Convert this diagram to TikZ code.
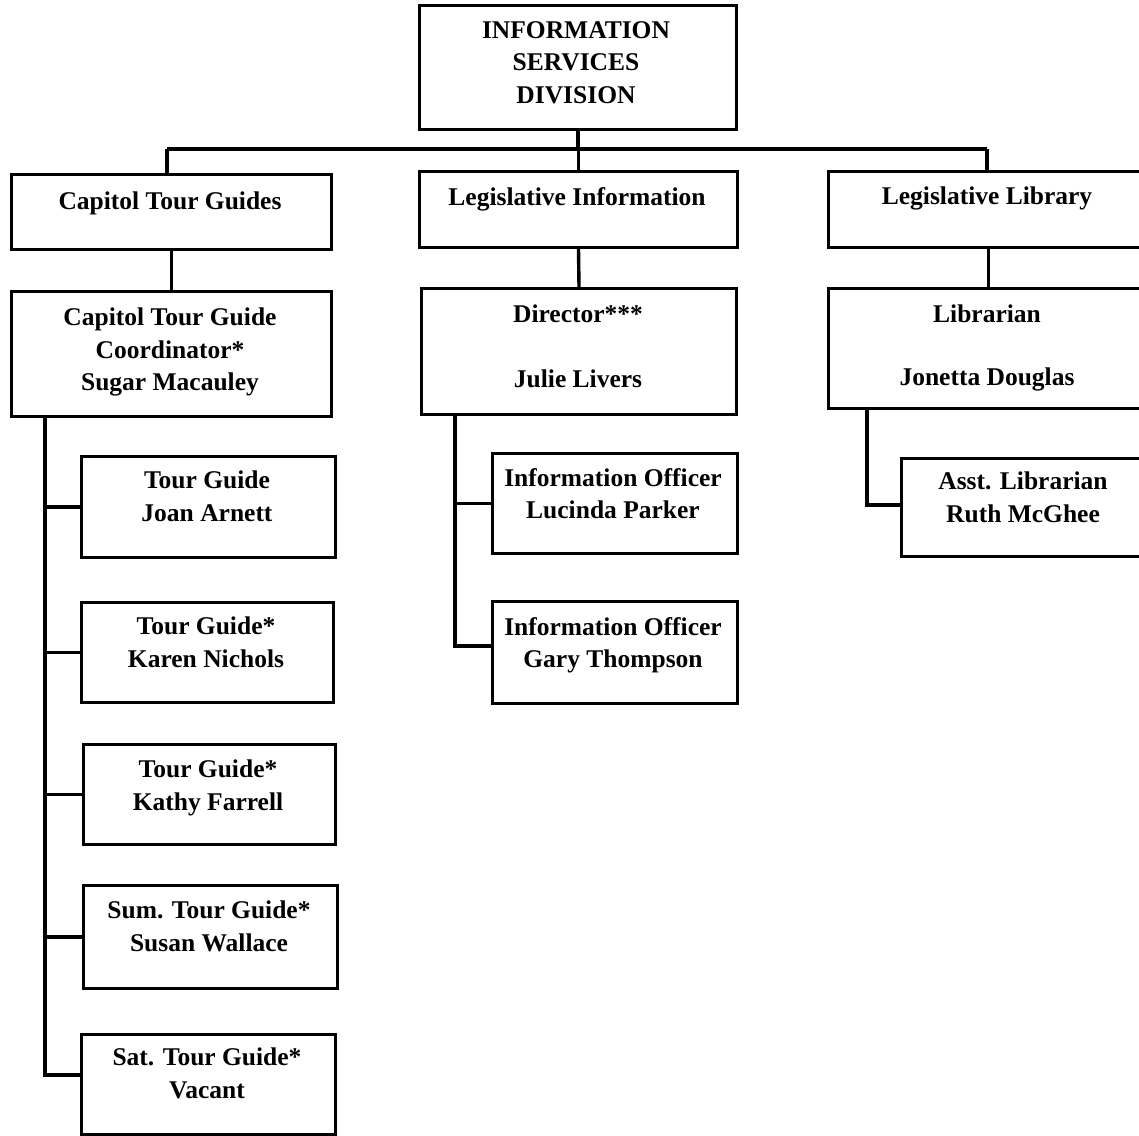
\documentclass[tikz,border=0pt]{standalone}
\usepackage{fontspec}
\setmainfont{Liberation Serif}
\begin{document}
\begin{tikzpicture}[x=1pt,y=-1pt,
  box/.style={draw, line width=3pt, rectangle, inner sep=0pt, anchor=north west},
  lbl/.style={anchor=north, inner sep=0pt, align=center,
    font=\fontsize{25.5}{32.5}\selectfont\bfseries},
  wire/.style={line width=3.4pt}]
\useasboundingbox (0,0) rectangle (1139,1135);
\clip (0,0) rectangle (1139,1135);

% ---- boxes ----
\node[box, minimum width=317pt, minimum height=124pt] (top)   at (418,4)    {};
\node[box, minimum width=320pt, minimum height=75pt]  (ctg)   at (10,173)   {};
\node[box, minimum width=318pt, minimum height=76pt]  (li)    at (418,170)  {};
\node[box, minimum width=320pt, minimum height=76pt]  (ll)    at (827,170)  {};
\node[box, minimum width=320pt, minimum height=125pt] (coord) at (10,290)   {};
\node[box, minimum width=315pt, minimum height=126pt] (dir)   at (420,287)  {};
\node[box, minimum width=320pt, minimum height=120pt] (lib)   at (827,287)  {};
\node[box, minimum width=254pt, minimum height=101pt] (tg1)   at (80,455)   {};
\node[box, minimum width=252pt, minimum height=100pt] (tg2)   at (80,601)   {};
\node[box, minimum width=252pt, minimum height=100pt] (tg3)   at (82,743)   {};
\node[box, minimum width=254pt, minimum height=103pt] (tg4)   at (82,884)   {};
\node[box, minimum width=254pt, minimum height=100pt] (tg5)   at (80,1033)  {};
\node[box, minimum width=245pt, minimum height=100pt] (io1)   at (491,452)  {};
\node[box, minimum width=245pt, minimum height=102pt] (io2)   at (491,600)  {};
\node[box, minimum width=246pt, minimum height=98pt]  (asst)  at (900,457)  {};

% ---- labels ----
\node[lbl] (t-top)   at (576,21)   {INFORMATION\\SERVICES\\DIVISION};
\node[lbl] (t-ctg)   at (170,192)  {Capitol Tour Guides};
\node[lbl] (t-li)    at (577,187)  {Legislative Information};
\node[lbl] (t-ll)    at (987,187)  {Legislative Library};
\node[lbl] (t-coord) at (170,308)  {Capitol Tour Guide\\Coordinator*\\Sugar Macauley};
\node[lbl] (t-dir)   at (578,305)  {Director***\\[32pt]Julie Livers};
\node[lbl] (t-lib)   at (987,305)  {Librarian\\[30pt]Jonetta Douglas};
\node[lbl] (t-tg1)   at (207,471)  {Tour Guide\\Joan Arnett};
\node[lbl] (t-tg2)   at (206,617)  {Tour Guide*\\Karen Nichols};
\node[lbl] (t-tg3)   at (208,760)  {Tour Guide*\\Kathy Farrell};
\node[lbl] (t-tg4)   at (209,901)  {Sum. Tour Guide*\\Susan Wallace};
\node[lbl] (t-tg5)   at (207,1048) {Sat. Tour Guide*\\Vacant};
\node[lbl] (t-io1)   at (613,468)  {Information Officer\\Lucinda Parker};
\node[lbl] (t-io2)   at (613,617)  {Information Officer\\Gary Thompson};
\node[lbl] (t-asst)  at (1023,472) {Asst. Librarian\\Ruth McGhee};

% ---- connectors ----
\coordinate (barL) at (167,149);
\coordinate (barR) at (987,149);
\draw[wire] (barL) -- (barR);
\draw[wire] (top.south) -- (top.south |- barL);
\draw[wire] (barL) -- (barL |- ctg.north);
\draw[wire] (li.north) -- (li.north |- barL);
\draw[wire] (barR) -- (barR |- ll.north);
\draw[wire] (ctg.south) -- (coord.north);
\draw[wire] (li.south) -- (dir.north);
\draw[wire] (ll.south) -- (lib.north);

% left staff spine
\coordinate (sL) at (45,1075);
\draw[wire] (coord.south -| sL) |- (tg5.west |- sL);
\draw[wire] (sL |- tg1.west) -- (tg1.west);
\draw[wire] (sL |- tg2.west) -- (tg2.west);
\draw[wire] (sL |- tg3.west) -- (tg3.west);
\draw[wire] (sL |- tg4.west) -- (tg4.west);

% middle staff spine
\coordinate (sM) at (455,646);
\draw[wire] (dir.south -| sM) |- (io2.west |- sM);
\draw[wire] (sM |- io1.west) -- (io1.west);

% right staff spine
\coordinate (sR) at (867,505);
\draw[wire] (lib.south -| sR) |- (asst.west |- sR);
\end{tikzpicture}
\end{document}
